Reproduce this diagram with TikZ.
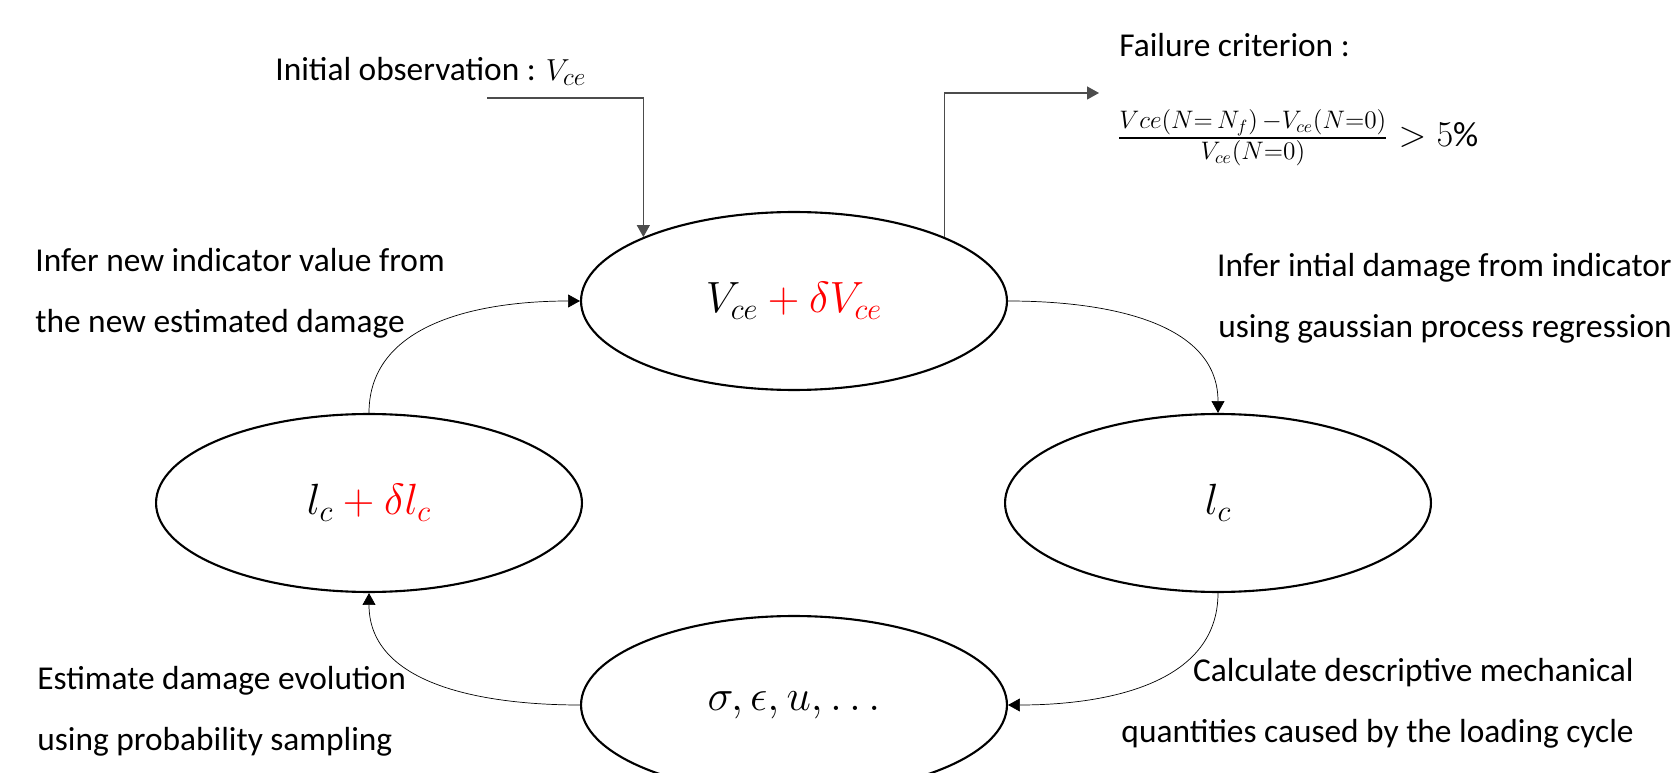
\documentclass[tikz,border=0pt]{standalone}
\usepackage{fontspec}
\setmainfont{Carlito}
\usepackage{amsmath}
\usetikzlibrary{shapes.geometric, arrows.meta, positioning}

\tikzset{
  stage/.style={ellipse, draw, line width=1.2pt, minimum width=8.52cm, minimum height=3.56cm,
                inner sep=0pt, font=\fontsize{25}{29}\selectfont},
  note/.style={font=\fontsize{19}{34.7}\selectfont, inner sep=0pt},
  cycleflow/.style={-{Triangle[length=6.8pt, width=7.4pt]}, line width=0.4pt},
  feed/.style={-{Triangle[length=6.8pt, width=7.4pt]}, line width=0.6pt, black!70},
}

\begin{document}
\begin{tikzpicture}[x=0.02cm, y=-0.02cm]
    \useasboundingbox (0,0) rectangle (1678,773);

    % The four states of the loop
    \node[stage] (vce) at (794,301) {$V_{ce}\mathbin{\textcolor{red}{+}}\textcolor{red}{\delta V_{ce}}$};
    \node[stage] (lc)  at (1218,503) {$l_c$};
    \node[stage] (sig) at (794,705) {$\sigma, \epsilon, u, \ldots$};
    \node[stage] (dlc) at (369,503) {$l_c\mathbin{\textcolor{red}{+}}\textcolor{red}{\delta l_c}$};

    % Loop connectors
    \draw[cycleflow] (vce.east) to[out=0, in=90] (lc.north);
    \draw[cycleflow] (lc.south) to[out=-90, in=0] (sig.east);
    \draw[cycleflow] (sig.west) to[out=180, in=-90] (dlc.south);
    \draw[cycleflow] (dlc.north) to[out=90, in=180] (vce.west);

    % Step descriptions
    \node[note, anchor=west, align=left] (newind) at (35,293)
        {Infer new indicator value from\\the new estimated damage};
    \node[note, anchor=east, align=right] (initdmg) at (1672,298)
        {Infer intial damage from indicator\\using gaussian process regression};
    \node[note, anchor=west, align=left] (evol) at (37,711)
        {Estimate damage evolution\\using probability sampling};
    \node[note, anchor=east, align=right] (mech) at (1634,703)
        {Calculate descriptive mechanical\\quantities caused by the loading cycle};

    % Input observation
    \node[note, anchor=base west] (obs) at (275,81) {Initial observation : $V_{ce}$};
    \coordinate (obsin) at (487,98);
    \draw[feed] (obsin) -| (vce.157);

    % Failure criterion
    \node[note, anchor=base west] (failtitle) at (1119,57) {Failure criterion :};
    \node[anchor=base west, inner sep=0pt, font=\fontsize{20}{24}\selectfont] (crit) at (1117,147)
        {$\frac{Vce\left(N{=}\,N_f\right)\,{-}V_{ce}(N{=}0)}{V_{ce}(N{=}0)} > 5\%$};
    \coordinate (failout) at (1099,93);
    \draw[feed] (vce.23) |- (failout);
\end{tikzpicture}
\end{document}
